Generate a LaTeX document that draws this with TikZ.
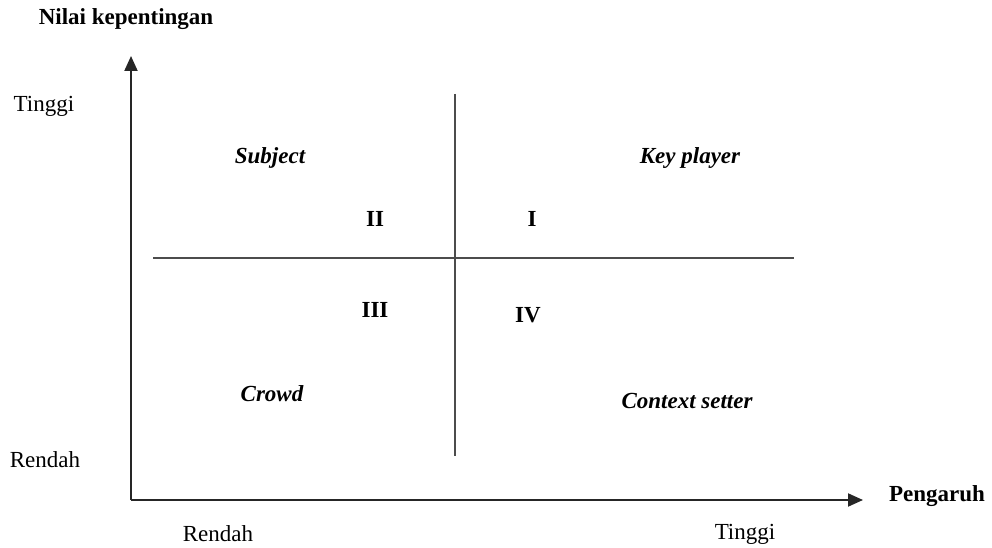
\documentclass[tikz,border=0pt]{standalone}
\usepackage{fontspec}
\setmainfont{Liberation Serif}
\usetikzlibrary{arrows.meta}
\begin{document}
\begin{tikzpicture}[x=1pt,y=-1pt,
  lbl/.style={font=\fontsize{23}{27}\selectfont, inner sep=0pt},
  blbl/.style={lbl, font=\fontsize{23}{27}\selectfont\bfseries},
  qlbl/.style={lbl, font=\fontsize{23}{27}\selectfont\bfseries\itshape},
  axis/.style={line width=2pt, draw=black!85, -{Triangle[length=15pt,width=13pt]}},
  divider/.style={line width=1.5pt, draw=black!70}]
\useasboundingbox (0,0) rectangle (992,548);
% axes
\coordinate (origin) at (131,500);
\coordinate (ytip) at (131,56);
\coordinate (xtip) at (863,500);
\draw[axis] (origin) -- (ytip);
\draw[axis] (origin) -- (xtip);
% dividers
\coordinate (vtop) at (455,94);
\coordinate (vbot) at (455,456);
\coordinate (hleft) at (153,258);
\coordinate (hright) at (794,258);
\draw[divider] (vtop) -- (vbot);
\draw[divider] (hleft) -- (hright);
% axis labels
\node[blbl] (ylabel) at (126,19) {Nilai kepentingan};
\node[blbl] (xlabel) at (937,496) {Pengaruh};
\node[lbl] (yhigh) at (44,106) {Tinggi};
\node[lbl] (ylow) at (45,460) {Rendah};
\node[lbl] (xlow) at (218,534) {Rendah};
\node[lbl] (xhigh) at (745,534) {Tinggi};
% quadrant names
\node[qlbl] (subject) at (270,158) {Subject};
\node[qlbl] (key) at (690,158) {Key player};
\node[qlbl] (crowd) at (272,394) {Crowd};
\node[qlbl] (context) at (687,401) {Context setter};
% quadrant numbers
\node[blbl] (q2) at (375,219) {II};
\node[blbl] (q1) at (532,219) {I};
\node[blbl] (q3) at (375,310) {III};
\node[blbl] (q4) at (528,315) {IV};
\end{tikzpicture}
\end{document}
